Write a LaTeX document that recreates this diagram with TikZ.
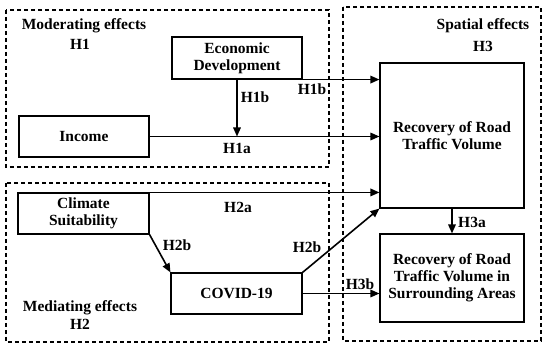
\documentclass[tikz,border=0pt]{standalone}
\usepackage{fontspec}
\setmainfont{Liberation Serif}
\usetikzlibrary{arrows.meta}
\begin{document}
\begin{tikzpicture}[x=1pt,y=-1pt,
  font=\fontsize{15.5}{17}\selectfont\bfseries,
  box/.style={draw,line width=1.1pt,rectangle,align=center,inner sep=0pt},
  region/.style={draw,line width=1.1pt,dash pattern=on 4pt off 3pt},
  conn/.style={line width=1.6pt,-{Triangle[length=9pt,width=7.5pt]}},
  lbl/.style={inner sep=0pt,align=center}]
\useasboundingbox (0,0) rectangle (550,352);
% regions
\draw[region] (6,10) rectangle (329,167);
\draw[region] (6,183) rectangle (329,342);
\draw[region] (343,7) rectangle (541,341);
% boxes
\node[box,minimum width=130pt,minimum height=42pt] (econ) at (237,58) {Economic\\Development};
\node[box,minimum width=130pt,minimum height=41pt] (inc) at (84,136.5) {Income};
\node[box,minimum width=144pt,minimum height=145pt] (rec) at (452,135.5) {Recovery of Road\\Traffic Volume};
\node[box,minimum width=144pt,minimum height=88pt] (sur) at (452,278) {Recovery of Road\\Traffic Volume in\\Surrounding Areas};
\node[box,minimum width=131pt,minimum height=41pt] (clim) at (83.5,213.5) {Climate\\Suitability};
\node[box,minimum width=131pt,minimum height=41pt] (cov) at (236.5,293.5) {COVID-19};
% region titles
\node[lbl] (mod) at (84,26) {Moderating effects};
\node[lbl] (h1) at (80,44) {H1};
\node[lbl] (spa) at (483,26) {Spatial effects};
\node[lbl] (h3) at (483,46) {H3};
\node[lbl] (med) at (80,308) {Mediating effects};
\node[lbl] (h2) at (80,324) {H2};
% connectors
\draw[conn] (econ.south east) -- (rec.west |- econ.south east);
\draw[conn] (econ.south) -- (econ.south |- inc.east);
\draw[conn] (inc.east) -- (rec.west |- inc.east);
\draw[conn] (clim.north east) -- (rec.west |- clim.north east);
\draw[conn] (clim.south east) -- (cov.north west);
\draw[conn] (cov.north east) -- (rec.south west);
\draw[conn] (cov.east) -- (sur.west |- cov.east);
\draw[conn] (rec.south) -- (sur.north);
% connector labels
\node[lbl] (l1b) at (255,97) {H1b};
\node[lbl] (l1b2) at (312,89) {H1b};
\node[lbl] (l1a) at (237,148) {H1a};
\node[lbl] (l2a) at (238,207) {H2a};
\node[lbl] (l2b) at (177,245) {H2b};
\node[lbl] (l2b2) at (307,247) {H2b};
\node[lbl] (l3b) at (360,284) {H3b};
\node[lbl] (l3a) at (472,222) {H3a};
\end{tikzpicture}
\end{document}
